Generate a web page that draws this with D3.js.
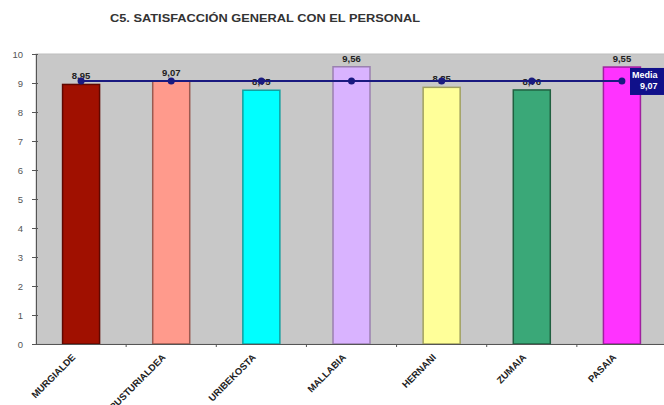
<!DOCTYPE html>
<html><head><meta charset="utf-8">
<script src="https://cdn.jsdelivr.net/npm/d3@7/dist/d3.min.js"></script>
<style>body{margin:0;background:#fff;}svg{display:block;font-family:"Liberation Sans",Arial,sans-serif;}</style>
</head><body><svg id="c" width="664" height="405"></svg>
<script>
const categories = ["MURGIALDE","URRUSTURIALDEA","URIBEKOSTA","MALLABIA","HERNANI","ZUMAIA","PASAIA"];
const values = [8.95, 9.07, 8.75, 9.56, 8.85, 8.76, 9.55];
const valueLabels = ["8,95","9,07","8,75","9,56","8,85","8,76","9,55"];
const meanValue = 9.07;
const meanLabel = ["Media","9,07"];
const yTicks = [0,1,2,3,4,5,6,7,8,9,10];
const colors = ["#a01000","#ff9a8c","#00ffff","#d9b3ff","#ffff99","#3aa878","#ff33ff"];
const strokes = ["#600800","#9a5a50","#10a0a0","#9a80b0","#a0a060","#206040","#a020a0"];

const svg = d3.select("#c");
const L = 36, R = 667, T = 54, B = 344;
const x = d3.scaleBand().domain(categories).range([L, R]);
const y = d3.scaleLinear().domain([0,10]).range([B, T]);

svg.append("text").attr("x", 265).attr("y", 22).attr("text-anchor","middle")
  .attr("font-size", 11.5).attr("font-weight","bold").attr("fill","#333")
  .attr("textLength", 310).attr("lengthAdjust","spacingAndGlyphs")
  .text("C5. SATISFACCIÓN GENERAL CON EL PERSONAL");

svg.append("rect").attr("x", L).attr("y", T).attr("width", R-L).attr("height", B-T)
  .attr("fill","#c8c8c8").attr("stroke","#bdbdbd");

const bw = 37;
svg.selectAll("rect.bar").data(values).join("rect").attr("class","bar")
  .attr("x",(d,i)=>x(categories[i])+x.bandwidth()/2-bw/2)
  .attr("y",d=>y(d)).attr("width",bw).attr("height",d=>B-y(d))
  .attr("fill",(d,i)=>colors[i]).attr("stroke",(d,i)=>strokes[i]).attr("stroke-width",1.5);

// axes
const ya = d3.axisLeft(y).tickValues(yTicks).tickSize(4).tickPadding(9).tickFormat(d3.format("d"));
const gy = svg.append("g").attr("transform",`translate(${L},0)`).call(ya);
gy.select(".domain").attr("stroke","#555");
gy.selectAll(".tick line").attr("stroke","#555").attr("x2",-4).attr("x1",2);
gy.selectAll(".tick text").attr("font-size",9.5).attr("fill","#555").attr("font-family","Liberation Sans, Arial");

const xa = d3.axisBottom(x).tickSize(0).tickFormat("");
const gx = svg.append("g").attr("transform",`translate(0,${B})`).call(xa);
gx.select(".domain").attr("stroke","#555");
svg.selectAll("line.xt").data(categories.slice(1)).join("line").attr("class","xt")
  .attr("x1",d=>x(d)).attr("x2",d=>x(d)).attr("y1",B).attr("y2",B+3).attr("stroke","#555");

svg.selectAll("text.xl").data(categories).join("text").attr("class","xl")
  .attr("transform",d=>`translate(${x(d)+x.bandwidth()/2-5},${B+14}) rotate(-45)`)
  .attr("text-anchor","end").attr("font-size",9.5).attr("font-weight","bold").attr("fill","#222")
  .text(d=>d);

// value labels
svg.selectAll("text.vl").data(values).join("text").attr("class","vl")
  .attr("x",(d,i)=>x(categories[i])+x.bandwidth()/2).attr("y",d=>y(d)-5)
  .attr("text-anchor","middle").attr("font-size",9.5).attr("font-weight","bold").attr("fill","#222")
  .text((d,i)=>valueLabels[i]);

// mean line
const cx = c => x(c)+x.bandwidth()/2;
svg.append("line").attr("x1",cx(categories[0])).attr("x2",cx(categories[categories.length-1]))
  .attr("y1",y(meanValue)).attr("y2",y(meanValue)).attr("stroke","#1a1a80").attr("stroke-width",2);
svg.selectAll("circle.m").data(categories).join("circle").attr("class","m")
  .attr("cx",cx).attr("cy",y(meanValue)).attr("r",3.5).attr("fill","#1a1a80");

svg.append("rect").attr("x",630).attr("y",y(meanValue)-13).attr("width",40).attr("height",27).attr("fill","#10108a");
svg.selectAll("text.ml").data(meanLabel).join("text").attr("class","ml")
  .attr("x",(d,i)=>i===0?632:640).attr("y",(d,i)=>y(meanValue)-3+i*11)
  .attr("font-size",9).attr("font-weight","bold").attr("fill","#fff").text(d=>d);
</script></body></html>
